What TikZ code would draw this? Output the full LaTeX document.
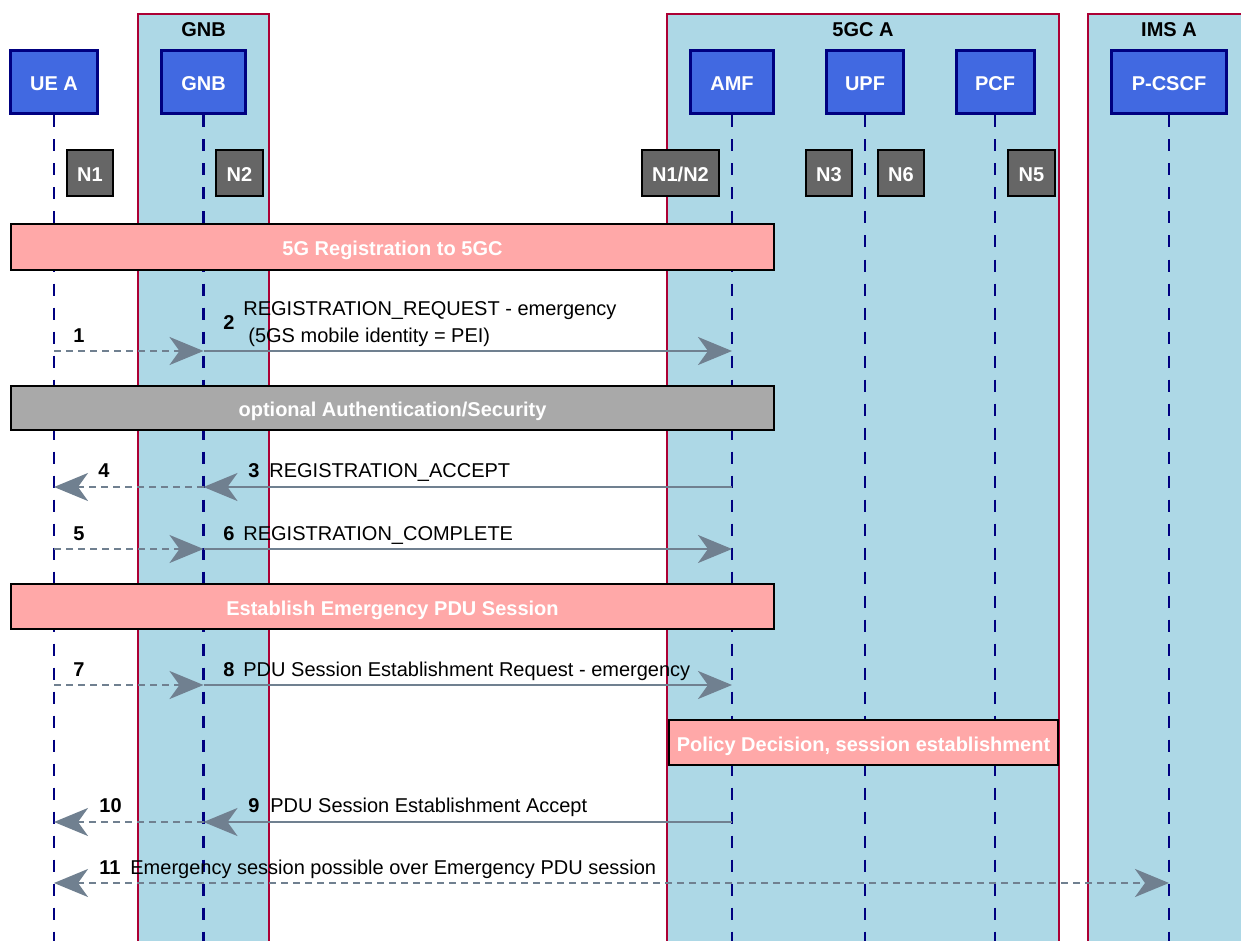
\documentclass[tikz,border=0pt]{standalone}
\usepackage{fontspec}
\setmainfont{Liberation Sans}
\usetikzlibrary{arrows.meta}

\definecolor{grpfill}{RGB}{173,216,230}
\definecolor{grpline}{RGB}{172,0,52}
\definecolor{actfill}{RGB}{65,105,225}
\definecolor{actline}{RGB}{0,0,128}
\definecolor{ifacefill}{RGB}{102,102,102}
\definecolor{barpink}{RGB}{255,168,168}
\definecolor{bargray}{RGB}{169,169,169}
\definecolor{msgcol}{RGB}{112,128,144}

\begin{document}
\begin{tikzpicture}[x=0.5pt,y=-0.5pt,
  every node/.style={font=\fontsize{10}{12}\selectfont},
  group/.style={draw=grpline, line width=1pt, fill=grpfill},
  grouptitle/.style={font=\fontsize{10}{12}\selectfont\bfseries, inner sep=0pt},
  actor/.style={draw=actline, line width=1.5pt, fill=actfill, text=white,
    font=\fontsize{10}{12}\selectfont\bfseries, minimum height=31.5pt, inner sep=0pt,
    text height=8.4pt, text depth=0pt},
  iface/.style={draw=black, line width=1pt, fill=ifacefill, text=white,
    font=\fontsize{10}{12}\selectfont\bfseries, minimum height=23pt, inner sep=0pt,
    text height=8.6pt, text depth=0pt},
  lifeline/.style={draw=actline, line width=1.3pt, dash pattern=on 6pt off 6pt},
  phase/.style={draw=black, line width=1pt, text=white,
    font=\fontsize{10}{12}\selectfont\bfseries, inner sep=0pt,
    text height=8.8pt, text depth=0pt},
  msg/.style={draw=msgcol, line width=1.3pt, -{Stealth[length=17pt,width=14pt,inset=5pt]}},
  relay/.style={msg, dash pattern=on 3.5pt off 2.5pt},
  num/.style={font=\fontsize{10}{12}\selectfont\bfseries, anchor=base west, inner sep=0pt},
  txt/.style={anchor=base west, inner sep=0pt}
]
\useasboundingbox (0,0) rectangle (1241,941);
\clip (0,0) rectangle (1241,941);

% containers
\path[group] (138,14) rectangle (269,990);
\path[group] (667,14) rectangle (1059,990);
\path[group] (1088,14) rectangle (1250,990);
\node[grouptitle] (tg-gnb) at (203.5,29.5) {GNB};
\node[grouptitle] (tg-core) at (863,29.5) {5GC A};
\node[grouptitle] (tg-ims) at (1169,29.5) {IMS A};

% participants
\node[actor, minimum width=43.5pt] (ue)    at (54,82.5)   {UE A};
\node[actor, minimum width=42pt]   (gnb)   at (203.5,82.5){GNB};
\node[actor, minimum width=41.5pt] (amf)   at (732,82.5)  {AMF};
\node[actor, minimum width=38.5pt] (upf)   at (865,82.5)  {UPF};
\node[actor, minimum width=39pt]   (pcf)   at (995,82.5)  {PCF};
\node[actor, minimum width=57.5pt] (pcscf) at (1169,82.5) {P-CSCF};

% lifelines
\foreach \who in {ue,gnb,amf,upf,pcf,pcscf}{
  \draw[lifeline] (\who.south) -- (\who.south |- 0,960);
}

% interface tags
\node[iface, minimum width=23pt]   (n1)   at (90,173)    {N1};
\node[iface, minimum width=23.5pt] (n2)   at (239.5,173) {N2};
\node[iface, minimum width=38.5pt] (n1n2) at (680.5,173) {N1/N2};
\node[iface, minimum width=23pt]   (n3)   at (829,173)   {N3};
\node[iface, minimum width=23pt]   (n6)   at (901,173)   {N6};
\node[iface, minimum width=23.5pt] (n5)   at (1031.5,173){N5};

% phase bars
\node[phase, fill=barpink, minimum width=381.5pt, minimum height=23pt] (ph-reg) at (392.5,247) {5G Registration to 5GC};
\node[phase, fill=bargray, minimum width=381.5pt, minimum height=22pt] (ph-auth) at (392.5,408) {optional Authentication/Security};
\node[phase, fill=barpink, minimum width=381.5pt, minimum height=22.5pt] (ph-pdu) at (392.5,606.5) {Establish Emergency PDU Session};
\node[phase, fill=barpink, minimum width=194.5pt, minimum height=22.5pt] (ph-pol) at (863.5,742.5) {Policy Decision, session establishment};

% message anchor points on the lifelines
\foreach \row/\yy in {r1/351,r3/487,r5/549,r7/685,r9/822,r11/883}{
  \foreach \who in {ue,gnb,amf,pcscf}{
    \coordinate (\who-\row) at (\who.center |- 0,\yy);
  }
}

% messages
\draw[relay] (ue-r1) -- (gnb-r1);
\draw[msg] (gnb-r1) -- (amf-r1);
\draw[msg] (amf-r3) -- (gnb-r3);
\draw[relay] (gnb-r3) -- (ue-r3);
\draw[relay] (ue-r5) -- (gnb-r5);
\draw[msg] (gnb-r5) -- (amf-r5);
\draw[relay] (ue-r7) -- (gnb-r7);
\draw[msg] (gnb-r7) -- (amf-r7);
\draw[msg] (amf-r9) -- (gnb-r9);
\draw[relay] (gnb-r9) -- (ue-r9);
\draw[relay, {Stealth[length=17pt,width=14pt,inset=5pt]}-{Stealth[length=17pt,width=14pt,inset=5pt]}] (ue-r11) -- (pcscf-r11);

% message labels
\node[num] (l1) at (73,342) {1};
\node[num] (l2) at (223,329) {2};
\node[txt] (t2a) at (243,315) {REGISTRATION\_REQUEST - emergency};
\node[txt] (t2b) at (248,342) {(5GS mobile identity = PEI)};
\node[num] (l3) at (248,477) {3};
\node[txt] (t3) at (269,477) {REGISTRATION\_ACCEPT};
\node[num] (l4) at (98,477) {4};
\node[num] (l5) at (73,540) {5};
\node[num] (l6) at (223,540) {6};
\node[txt] (t6) at (243,540) {REGISTRATION\_COMPLETE};
\node[num] (l7) at (73,676) {7};
\node[num] (l8) at (223,676) {8};
\node[txt] (t8) at (243,676) {PDU Session Establishment Request - emergency};
\node[num] (l9) at (248,812) {9};
\node[txt] (t9) at (270,812) {PDU Session Establishment Accept};
\node[num] (l10) at (99,812) {10};
\node[num] (l11) at (99,874) {11};
\node[txt] (t11) at (130,874) {Emergency session possible over Emergency PDU session};
\end{tikzpicture}
\end{document}
